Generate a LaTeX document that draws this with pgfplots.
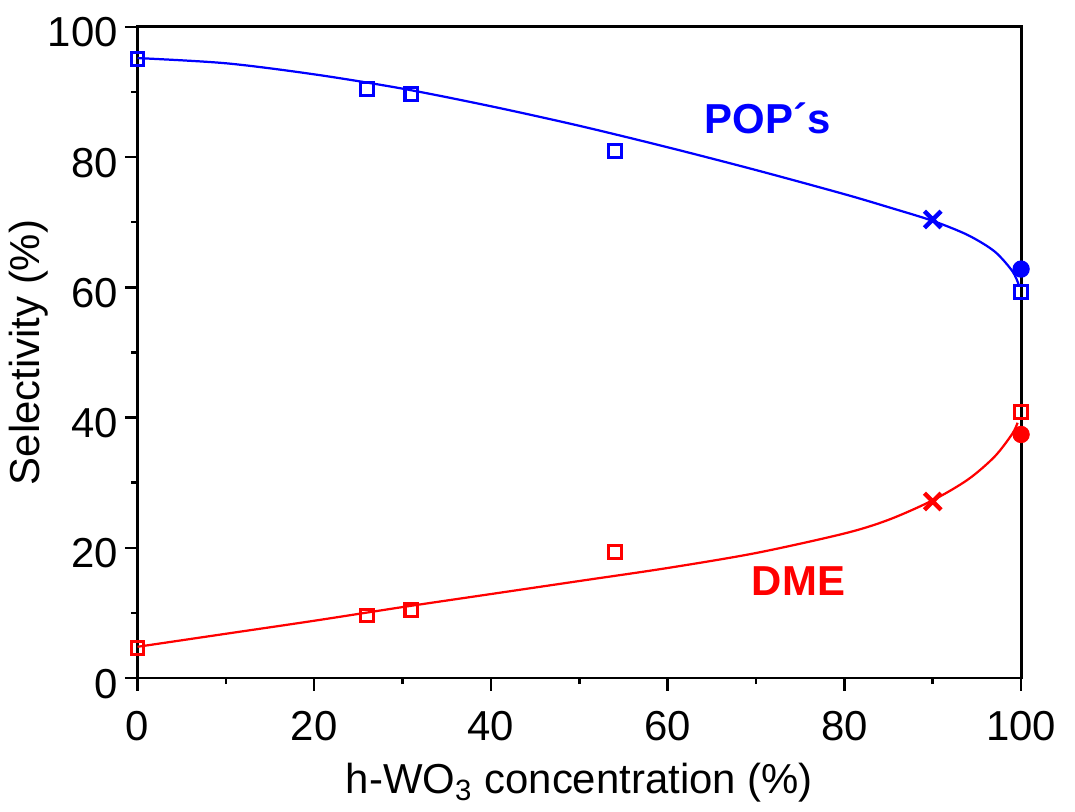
\documentclass[border=0pt]{standalone}
\usepackage{pgfplots}
\pgfplotsset{compat=1.18}
\usepackage{fontspec}
\setmainfont{Liberation Sans}
\definecolor{popblue}{RGB}{0,0,255}
\definecolor{dmered}{RGB}{255,0,0}
\begin{document}
\begin{tikzpicture}
\begin{axis}[
    scale only axis, width=316.4pt, height=233.2pt,
    xmin=0, xmax=100, ymin=0, ymax=100,
    xtick={0,20,...,100}, ytick={0,20,...,100},
    minor xtick={10,30,50,70,90}, minor ytick={10,30,50,70,90},
    tick pos=left, tick align=outside,
    major tick length=4.5pt, minor tick length=2.2pt,
    every tick/.style={black, line width=0.9pt},
    axis line style={line width=1pt},
    tick label style={font=\fontsize{15}{18}\selectfont},
    label style={font=\fontsize{15}{18}\selectfont},
    yticklabel style={yshift=-2pt, xshift=1pt},
    xticklabel style={yshift=-4pt},
    /pgf/number format/assume math mode=true,
    xlabel={h-WO\textsubscript{3} concentration (\%)},
    ylabel={Selectivity (\%)},
    xlabel style={yshift=-1pt},
    ylabel style={yshift=-7pt},
    clip=false,
]
% fitted curves
\addplot[popblue, line width=0.8pt, smooth, no marks] coordinates {
 (0,95.2) (10,94.4) (20,92.7) (30,90.5) (40,87.8) (50,84.8) (60,81.5)
 (70,78) (80,74.3) (85,72.3) (90,70.2) (94,68) (97,65.5) (99,62.5) (99.7,60.5)};
\addplot[dmered, line width=0.8pt, smooth, no marks] coordinates {
 (0,4.8) (10,6.8) (20,8.8) (30,10.9) (40,12.9) (50,14.9) (60,16.9)
 (70,19.2) (80,22.2) (85,24.3) (90,27.3) (94,30.5) (97,34) (99,37.5) (99.6,39.2)};
% POPs data
\addplot[only marks, mark=square, mark size=2.3pt, popblue, line width=1.1pt] coordinates {
 (0,95.1) (26,90.5) (31,89.7) (54,80.9) (100,59.3)};
\addplot[only marks, mark=x, mark size=4.2pt, popblue, line width=1.6pt] coordinates {(90,70.4)};
\addplot[only marks, mark=*, mark size=2.9pt, popblue] coordinates {(100,62.8)};
% DME data
\addplot[only marks, mark=square, mark size=2.3pt, dmered, line width=1.1pt] coordinates {
 (0,4.6) (26,9.6) (31,10.4) (54,19.3) (100,40.9)};
\addplot[only marks, mark=x, mark size=4.2pt, dmered, line width=1.6pt] coordinates {(90,27.1)};
\addplot[only marks, mark=*, mark size=2.9pt, dmered] coordinates {(100,37.4)};
\node[popblue, font=\fontsize{15}{18}\selectfont\bfseries] at (axis cs:71.3,86) {POP´s};
\node[dmered, font=\fontsize{15}{18}\selectfont\bfseries] at (axis cs:74.8,14.9) {DME};
% white margin above and right of the frame, as in the original
\path (rel axis cs:1,1) ++(19.3pt,9.6pt) coordinate (bbcorner);
\end{axis}
\path (bbcorner);
\end{tikzpicture}
\end{document}
